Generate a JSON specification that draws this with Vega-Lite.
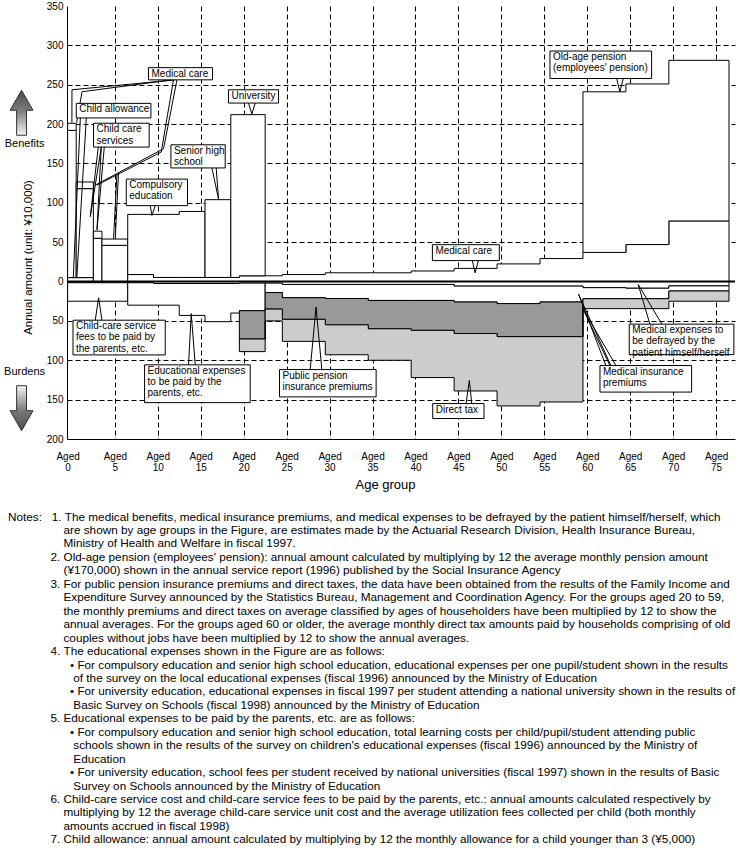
{
  "$schema": "https://vega.github.io/schema/vega-lite/v6.json",
  "width": 668,
  "height": 433,
  "autosize": {"type": "none"},
  "padding": {"left": 67, "top": 6, "right": 5, "bottom": 417},
  "background": "white",
  "config": {
    "view": {"stroke": null},
    "font": "Liberation Sans",
    "axis": {"labelFont": "Liberation Sans", "titleFont": "Liberation Sans"}
  },
  "title": {
    "text": [
      "Notes:\u00a0\u00a0\u00a01.\u00a0The medical benefits, medical insurance premiums, and medical expenses to be defrayed by the patient himself/herself, which",
      "\u200b\u00a0\u00a0\u00a0\u00a0\u00a0\u00a0\u00a0\u00a0\u00a0\u00a0\u00a0\u00a0\u00a0\u00a0\u00a0\u00a0\u00a0are shown by age groups in the Figure, are estimates made by the Actuarial Research Division, Health Insurance Bureau,",
      "\u200b\u00a0\u00a0\u00a0\u00a0\u00a0\u00a0\u00a0\u00a0\u00a0\u00a0\u00a0\u00a0\u00a0\u00a0\u00a0\u00a0\u00a0Ministry of Health and Welfare in fiscal 1997.",
      "\u200b\u00a0\u00a0\u00a0\u00a0\u00a0\u00a0\u00a0\u00a0\u00a0\u00a0\u00a0\u00a0\u00a02.\u00a0Old-age pension (employees' pension): annual amount calculated by multiplying by 12 the average monthly pension amount",
      "\u200b\u00a0\u00a0\u00a0\u00a0\u00a0\u00a0\u00a0\u00a0\u00a0\u00a0\u00a0\u00a0\u00a0\u00a0\u00a0\u00a0\u00a0(¥170,000) shown in the annual service report (1996) published by the Social Insurance Agency",
      "\u200b\u00a0\u00a0\u00a0\u00a0\u00a0\u00a0\u00a0\u00a0\u00a0\u00a0\u00a0\u00a0\u00a03.\u00a0For public pension insurance premiums and direct taxes, the data have been obtained from the results of the Family Income and",
      "\u200b\u00a0\u00a0\u00a0\u00a0\u00a0\u00a0\u00a0\u00a0\u00a0\u00a0\u00a0\u00a0\u00a0\u00a0\u00a0\u00a0\u00a0Expenditure Survey announced by the Statistics Bureau, Management and Coordination Agency. For the groups aged 20 to 59,",
      "\u200b\u00a0\u00a0\u00a0\u00a0\u00a0\u00a0\u00a0\u00a0\u00a0\u00a0\u00a0\u00a0\u00a0\u00a0\u00a0\u00a0\u00a0the monthly premiums and direct taxes on average classified by ages of householders have been multiplied by 12 to show the",
      "\u200b\u00a0\u00a0\u00a0\u00a0\u00a0\u00a0\u00a0\u00a0\u00a0\u00a0\u00a0\u00a0\u00a0\u00a0\u00a0\u00a0\u00a0annual averages. For the groups aged 60 or older, the average monthly direct tax amounts paid by households comprising of old",
      "\u200b\u00a0\u00a0\u00a0\u00a0\u00a0\u00a0\u00a0\u00a0\u00a0\u00a0\u00a0\u00a0\u00a0\u00a0\u00a0\u00a0\u00a0couples without jobs have been multiplied by 12 to show the annual averages.",
      "\u200b\u00a0\u00a0\u00a0\u00a0\u00a0\u00a0\u00a0\u00a0\u00a0\u00a0\u00a0\u00a0\u00a04.\u00a0The educational expenses shown in the Figure are as follows:",
      "\u200b\u00a0\u00a0\u00a0\u00a0\u00a0\u00a0\u00a0\u00a0\u00a0\u00a0\u00a0\u00a0\u00a0\u00a0\u00a0\u00a0\u00a0\u00a0\u00a0•\u00a0For compulsory education and senior high school education, educational expenses per one pupil/student shown in the results",
      "\u200b\u00a0\u00a0\u00a0\u00a0\u00a0\u00a0\u00a0\u00a0\u00a0\u00a0\u00a0\u00a0\u00a0\u00a0\u00a0\u00a0\u00a0\u00a0\u00a0\u00a0of the survey on the local educational expenses (fiscal 1996) announced by the Ministry of Education",
      "\u200b\u00a0\u00a0\u00a0\u00a0\u00a0\u00a0\u00a0\u00a0\u00a0\u00a0\u00a0\u00a0\u00a0\u00a0\u00a0\u00a0\u00a0\u00a0\u00a0•\u00a0For university education, educational expenses in fiscal 1997 per student attending a national university shown in the results of",
      "\u200b\u00a0\u00a0\u00a0\u00a0\u00a0\u00a0\u00a0\u00a0\u00a0\u00a0\u00a0\u00a0\u00a0\u00a0\u00a0\u00a0\u00a0\u00a0\u00a0\u00a0Basic Survey on Schools (fiscal 1998) announced by the Ministry of Education",
      "\u200b\u00a0\u00a0\u00a0\u00a0\u00a0\u00a0\u00a0\u00a0\u00a0\u00a0\u00a0\u00a0\u00a05.\u00a0Educational expenses to be paid by the parents, etc. are as follows:",
      "\u200b\u00a0\u00a0\u00a0\u00a0\u00a0\u00a0\u00a0\u00a0\u00a0\u00a0\u00a0\u00a0\u00a0\u00a0\u00a0\u00a0\u00a0\u00a0\u00a0•\u00a0For compulsory education and senior high school education, total learning costs per child/pupil/student attending public",
      "\u200b\u00a0\u00a0\u00a0\u00a0\u00a0\u00a0\u00a0\u00a0\u00a0\u00a0\u00a0\u00a0\u00a0\u00a0\u00a0\u00a0\u00a0\u00a0\u00a0\u00a0schools shown in the results of the survey on children's educational expenses (fiscal 1996) announced by the Ministry of",
      "\u200b\u00a0\u00a0\u00a0\u00a0\u00a0\u00a0\u00a0\u00a0\u00a0\u00a0\u00a0\u00a0\u00a0\u00a0\u00a0\u00a0\u00a0\u00a0\u00a0\u00a0Education",
      "\u200b\u00a0\u00a0\u00a0\u00a0\u00a0\u00a0\u00a0\u00a0\u00a0\u00a0\u00a0\u00a0\u00a0\u00a0\u00a0\u00a0\u00a0\u00a0\u00a0•\u00a0For university education, school fees per student received by national universities (fiscal 1997) shown in the results of Basic",
      "\u200b\u00a0\u00a0\u00a0\u00a0\u00a0\u00a0\u00a0\u00a0\u00a0\u00a0\u00a0\u00a0\u00a0\u00a0\u00a0\u00a0\u00a0\u00a0\u00a0\u00a0Survey on Schools announced by the Ministry of Education",
      "\u200b\u00a0\u00a0\u00a0\u00a0\u00a0\u00a0\u00a0\u00a0\u00a0\u00a0\u00a0\u00a0\u00a06.\u00a0Child-care service cost and child-care service fees to be paid by the parents, etc.: annual amounts calculated respectively by",
      "\u200b\u00a0\u00a0\u00a0\u00a0\u00a0\u00a0\u00a0\u00a0\u00a0\u00a0\u00a0\u00a0\u00a0\u00a0\u00a0\u00a0\u00a0multiplying by 12 the average child-care service unit cost and the average utilization fees collected per child (both monthly",
      "\u200b\u00a0\u00a0\u00a0\u00a0\u00a0\u00a0\u00a0\u00a0\u00a0\u00a0\u00a0\u00a0\u00a0\u00a0\u00a0\u00a0\u00a0amounts accrued in fiscal 1998)",
      "\u200b\u00a0\u00a0\u00a0\u00a0\u00a0\u00a0\u00a0\u00a0\u00a0\u00a0\u00a0\u00a0\u00a07.\u00a0Child allowance: annual amount calculated by multiplying by 12 the monthly allowance for a child younger than 3 (¥5,000)"
    ],
    "orient": "bottom",
    "anchor": "start",
    "frame": "group",
    "dx": -59,
    "offset": 20,
    "font": "Liberation Sans",
    "fontSize": 11.75,
    "fontWeight": "normal",
    "color": "black",
    "lineHeight": 13.45
  },
  "datasets": {
    "bands": [
      {"band": "Child allowance", "cat": "benefit", "age": -0.5, "lo": 0, "amt": 5},
      {"band": "Child allowance", "cat": "benefit", "age": 2.5, "lo": 0, "amt": 5},
      {"band": "Child care services 0", "cat": "benefit", "age": -0.5, "lo": 5, "amt": 192},
      {"band": "Child care services 0", "cat": "benefit", "age": 0.5, "lo": 5, "amt": 192},
      {"band": "Child care services 1-2", "cat": "benefit", "age": 0.5, "lo": 5, "amt": 118},
      {"band": "Child care services 1-2", "cat": "benefit", "age": 2.5, "lo": 5, "amt": 118},
      {"band": "Child care services 3", "cat": "benefit", "age": 2.5, "lo": 0, "amt": 55},
      {"band": "Child care services 3", "cat": "benefit", "age": 3.5, "lo": 0, "amt": 55},
      {"band": "Child care services 4-6", "cat": "benefit", "age": 3.5, "lo": 0, "amt": 46},
      {"band": "Child care services 4-6", "cat": "benefit", "age": 6.5, "lo": 0, "amt": 46},
      {"band": "Medical care 0", "cat": "benefit", "age": -0.5, "lo": 192, "amt": 201},
      {"band": "Medical care 0", "cat": "benefit", "age": 0.5, "lo": 192, "amt": 201},
      {"band": "Medical care 1-2", "cat": "benefit", "age": 0.5, "lo": 118, "amt": 126.5},
      {"band": "Medical care 1-2", "cat": "benefit", "age": 2.5, "lo": 118, "amt": 126.5},
      {"band": "Medical care 3", "cat": "benefit", "age": 2.5, "lo": 55, "amt": 64},
      {"band": "Medical care 3", "cat": "benefit", "age": 3.5, "lo": 55, "amt": 64},
      {"band": "Medical care 4-6", "cat": "benefit", "age": 3.5, "lo": 46, "amt": 54},
      {"band": "Medical care 4-6", "cat": "benefit", "age": 6.5, "lo": 46, "amt": 54},
      {"band": "Medical care", "cat": "benefit", "age": 6.5, "lo": 0, "amt": 8.9},
      {"band": "Medical care", "cat": "benefit", "age": 9.5, "lo": 0, "amt": 5.2},
      {"band": "Medical care", "cat": "benefit", "age": 19.5, "lo": 0, "amt": 7.3},
      {"band": "Medical care", "cat": "benefit", "age": 24.5, "lo": 0, "amt": 8.9},
      {"band": "Medical care", "cat": "benefit", "age": 29.5, "lo": 0, "amt": 11.1},
      {"band": "Medical care", "cat": "benefit", "age": 39.5, "lo": 0, "amt": 13.4},
      {"band": "Medical care", "cat": "benefit", "age": 44.5, "lo": 0, "amt": 16.7},
      {"band": "Medical care", "cat": "benefit", "age": 49.5, "lo": 0, "amt": 22.4},
      {"band": "Medical care", "cat": "benefit", "age": 54.5, "lo": 0, "amt": 29.2},
      {"band": "Medical care", "cat": "benefit", "age": 59.5, "lo": 0, "amt": 37},
      {"band": "Medical care", "cat": "benefit", "age": 64.5, "lo": 0, "amt": 47},
      {"band": "Medical care", "cat": "benefit", "age": 69.5, "lo": 0, "amt": 77},
      {"band": "Medical care", "cat": "benefit", "age": 76.5, "lo": 0, "amt": 77},
      {"band": "Compulsory education", "cat": "benefit", "age": 6.5, "lo": 8.9, "amt": 85.3},
      {"band": "Compulsory education", "cat": "benefit", "age": 9.5, "lo": 5.2, "amt": 85.3},
      {"band": "Compulsory education", "cat": "benefit", "age": 12.5, "lo": 5.2, "amt": 89},
      {"band": "Compulsory education", "cat": "benefit", "age": 15.5, "lo": 5.2, "amt": 89},
      {"band": "Senior high school", "cat": "benefit", "age": 15.5, "lo": 5.2, "amt": 104},
      {"band": "Senior high school", "cat": "benefit", "age": 18.5, "lo": 5.2, "amt": 104},
      {"band": "University", "cat": "benefit", "age": 18.5, "lo": 5.2, "amt": 212},
      {"band": "University", "cat": "benefit", "age": 19.5, "lo": 7.3, "amt": 212},
      {"band": "University", "cat": "benefit", "age": 22.5, "lo": 7.3, "amt": 212},
      {"band": "Old-age pension", "cat": "benefit", "age": 59.5, "lo": 37, "amt": 241},
      {"band": "Old-age pension", "cat": "benefit", "age": 64.5, "lo": 47, "amt": 251},
      {"band": "Old-age pension", "cat": "benefit", "age": 69.5, "lo": 77, "amt": 281},
      {"band": "Old-age pension", "cat": "benefit", "age": 76.5, "lo": 77, "amt": 281},
      {"band": "Medical self-pay", "cat": "burden", "age": -0.5, "lo": 0, "amt": -1.5},
      {"band": "Medical self-pay", "cat": "burden", "age": 9.5, "lo": 0, "amt": -2.5},
      {"band": "Medical self-pay", "cat": "burden", "age": 19.5, "lo": 0, "amt": -2},
      {"band": "Medical self-pay", "cat": "burden", "age": 24.5, "lo": 0, "amt": -3.7},
      {"band": "Medical self-pay", "cat": "burden", "age": 44.5, "lo": 0, "amt": -5.8},
      {"band": "Medical self-pay", "cat": "burden", "age": 59.5, "lo": 0, "amt": -7.8},
      {"band": "Medical self-pay", "cat": "burden", "age": 64.5, "lo": 0, "amt": -8.5},
      {"band": "Medical self-pay", "cat": "burden", "age": 69.5, "lo": 0, "amt": -5.5},
      {"band": "Medical self-pay", "cat": "burden", "age": 76.5, "lo": 0, "amt": -5.5},
      {"band": "Child-care service fees", "cat": "burden", "age": -0.5, "lo": -1.5, "amt": -25},
      {"band": "Child-care service fees", "cat": "burden", "age": 6.5, "lo": -1.5, "amt": -25},
      {"band": "Educational expenses", "cat": "burden", "age": 6.5, "lo": -1.5, "amt": -30},
      {"band": "Educational expenses", "cat": "burden", "age": 9.5, "lo": -2.5, "amt": -30},
      {"band": "Educational expenses", "cat": "burden", "age": 12.5, "lo": -2.5, "amt": -43},
      {"band": "Educational expenses", "cat": "burden", "age": 15.5, "lo": -2.5, "amt": -51},
      {"band": "Educational expenses", "cat": "burden", "age": 18.5, "lo": -2.5, "amt": -40},
      {"band": "Educational expenses", "cat": "burden", "age": 19.5, "lo": -2, "amt": -37},
      {"band": "Educational expenses", "cat": "burden", "age": 22.5, "lo": -2, "amt": -37},
      {"band": "Medical insurance premiums", "cat": "burden", "age": 22.5, "lo": -2, "amt": -14},
      {"band": "Medical insurance premiums", "cat": "burden", "age": 24.5, "lo": -3.7, "amt": -20.5},
      {"band": "Medical insurance premiums", "cat": "burden", "age": 29.5, "lo": -3.7, "amt": -21.5},
      {"band": "Medical insurance premiums", "cat": "burden", "age": 34.5, "lo": -3.7, "amt": -24},
      {"band": "Medical insurance premiums", "cat": "burden", "age": 44.5, "lo": -5.8, "amt": -26},
      {"band": "Medical insurance premiums", "cat": "burden", "age": 49.5, "lo": -5.8, "amt": -28},
      {"band": "Medical insurance premiums", "cat": "burden", "age": 54.5, "lo": -5.8, "amt": -26},
      {"band": "Medical insurance premiums", "cat": "burden", "age": 59.5, "lo": -7.8, "amt": -21.8},
      {"band": "Medical insurance premiums", "cat": "burden", "age": 64.5, "lo": -8.5, "amt": -21.8},
      {"band": "Medical insurance premiums", "cat": "burden", "age": 69.5, "lo": -5.5, "amt": -12},
      {"band": "Medical insurance premiums", "cat": "burden", "age": 76.5, "lo": -5.5, "amt": -12},
      {"band": "Public pension insurance premiums", "cat": "pension", "age": 19.5, "lo": -37, "amt": -73},
      {"band": "Public pension insurance premiums", "cat": "pension", "age": 22.5, "lo": -14, "amt": -35},
      {"band": "Public pension insurance premiums", "cat": "pension", "age": 24.5, "lo": -20.5, "amt": -48},
      {"band": "Public pension insurance premiums", "cat": "pension", "age": 29.5, "lo": -21.5, "amt": -55},
      {"band": "Public pension insurance premiums", "cat": "pension", "age": 34.5, "lo": -24, "amt": -60},
      {"band": "Public pension insurance premiums", "cat": "pension", "age": 39.5, "lo": -24, "amt": -62},
      {"band": "Public pension insurance premiums", "cat": "pension", "age": 44.5, "lo": -26, "amt": -66},
      {"band": "Public pension insurance premiums", "cat": "pension", "age": 49.5, "lo": -28, "amt": -70},
      {"band": "Public pension insurance premiums", "cat": "pension", "age": 54.5, "lo": -26, "amt": -70},
      {"band": "Public pension insurance premiums", "cat": "pension", "age": 59.5, "lo": -26, "amt": -70},
      {"band": "Direct tax", "cat": "tax", "age": 19.5, "lo": -73, "amt": -89},
      {"band": "Direct tax", "cat": "tax", "age": 22.5, "lo": -35, "amt": -50},
      {"band": "Direct tax", "cat": "tax", "age": 24.5, "lo": -48, "amt": -76},
      {"band": "Direct tax", "cat": "tax", "age": 29.5, "lo": -55, "amt": -93},
      {"band": "Direct tax", "cat": "tax", "age": 34.5, "lo": -60, "amt": -100},
      {"band": "Direct tax", "cat": "tax", "age": 39.5, "lo": -62, "amt": -122},
      {"band": "Direct tax", "cat": "tax", "age": 44.5, "lo": -66, "amt": -139},
      {"band": "Direct tax", "cat": "tax", "age": 49.5, "lo": -70, "amt": -158},
      {"band": "Direct tax", "cat": "tax", "age": 54.5, "lo": -70, "amt": -153},
      {"band": "Direct tax", "cat": "tax", "age": 59.5, "lo": -21.8, "amt": -34.4},
      {"band": "Direct tax", "cat": "tax", "age": 64.5, "lo": -21.8, "amt": -34.4},
      {"band": "Direct tax", "cat": "tax", "age": 69.5, "lo": -12, "amt": -25},
      {"band": "Direct tax", "cat": "tax", "age": 76.5, "lo": -12, "amt": -25}
    ],
    "zero": [
      {"age": -0.57, "age_end": 77.2, "amt": 0}
    ],
    "callouts": [
      {"label": "Medical care", "age": 8.92, "age_end": 16.37, "amt": 271.7, "amt_end": 256.2},
      {"label": "Child allowance", "age": 0.51, "age_end": 9.2, "amt": 226.3, "amt_end": 207.8},
      {"label": "Child care\nservices", "age": 2.52, "age_end": 9.0, "amt": 201.1, "amt_end": 170.8},
      {"label": "Compulsory\neducation", "age": 6.33, "age_end": 13.46, "amt": 130.1, "amt_end": 96.4},
      {"label": "Senior high\nschool", "age": 11.53, "age_end": 17.85, "amt": 173.7, "amt_end": 144.3},
      {"label": "University", "age": 18.23, "age_end": 24.05, "amt": 243.6, "amt_end": 226.7},
      {"label": "Old-age pension\n(employees' pension)", "age": 55.66, "age_end": 67.49, "amt": 292.8, "amt_end": 257.9},
      {"label": "Medical care", "age": 41.97, "age_end": 49.76, "amt": 46.8, "amt_end": 26.6},
      {"label": "Child-care service\nfees to be paid by\nthe parents, etc.", "age": 0.13, "age_end": 10.87, "amt": -49.1, "amt_end": -93.2},
      {"label": "Educational expenses\nto be paid by the\nparents, etc.", "age": 8.46, "age_end": 20.76, "amt": -105.8, "amt_end": -153.8},
      {"label": "Public pension\ninsurance premiums", "age": 24.17, "age_end": 35.42, "amt": -111.8, "amt_end": -146.5},
      {"label": "Direct tax", "age": 42.01, "age_end": 47.98, "amt": -155.0, "amt_end": -174.0},
      {"label": "Medical insurance\npremiums", "age": 61.48, "age_end": 72.15, "amt": -106.7, "amt_end": -140.4},
      {"label": "Medical expenses to\nbe defrayed by the\npatient himself/herself", "age": 64.89, "age_end": 77.07, "amt": -54.1, "amt_end": -92.8}
    ],
    "tails": [
      {"age": 9.12, "amt": 96.4, "age_end": 9.32, "amt_end": 83.8},
      {"age": 9.70, "amt": 96.4, "age_end": 9.32, "amt_end": 83.8},
      {"age": 16.3, "amt": 144.3, "age_end": 17.07, "amt_end": 104.8},
      {"age": 16.8, "amt": 144.3, "age_end": 17.07, "amt_end": 104.8},
      {"age": 20.56, "amt": 226.7, "age_end": 20.95, "amt_end": 212.8},
      {"age": 21.34, "amt": 226.7, "age_end": 20.95, "amt_end": 212.8},
      {"age": 63.42, "amt": 257.9, "age_end": 63.8, "amt_end": 241.1},
      {"age": 64.19, "amt": 257.9, "age_end": 63.8, "amt_end": 241.1},
      {"age": 46.62, "amt": 26.6, "age_end": 46.94, "amt_end": 11.0},
      {"age": 47.32, "amt": 26.6, "age_end": 46.94, "amt_end": 11.0},
      {"age": 2.72, "amt": -49.1, "age_end": 3.11, "amt_end": -20.6},
      {"age": 3.5, "amt": -49.1, "age_end": 3.11, "amt_end": -20.6},
      {"age": 13.58, "amt": -105.8, "age_end": 13.89, "amt_end": -40.7},
      {"age": 14.36, "amt": -105.8, "age_end": 13.89, "amt_end": -40.7},
      {"age": 27.74, "amt": -111.8, "age_end": 28.43, "amt_end": -32.3},
      {"age": 29.1, "amt": -111.8, "age_end": 28.43, "amt_end": -32.3},
      {"age": 45.89, "amt": -155.0, "age_end": 46.27, "amt_end": -125.6},
      {"age": 46.55, "amt": -155.0, "age_end": 46.27, "amt_end": -125.6},
      {"age": 62.17, "amt": -106.7, "age_end": 58.98, "amt_end": -15.9},
      {"age": 62.75, "amt": -106.7, "age_end": 58.98, "amt_end": -15.9},
      {"age": 62.64, "amt": -106.7, "age_end": 59.5, "amt_end": -34.7},
      {"age": 63.34, "amt": -106.7, "age_end": 59.5, "amt_end": -34.7},
      {"age": 67.29, "amt": -54.1, "age_end": 65.93, "amt_end": -3.7},
      {"age": 68.69, "amt": -54.1, "age_end": 65.93, "amt_end": -3.7},
      {"age": 3.07, "amt": 170.8, "age_end": 2.14, "amt_end": 82.5},
      {"age": 3.42, "amt": 170.8, "age_end": 2.14, "amt_end": 82.5},
      {"age": 3.42, "amt": 170.8, "age_end": 2.92, "amt_end": 65.7},
      {"age": 3.77, "amt": 170.8, "age_end": 2.92, "amt_end": 65.7},
      {"age": 0.98, "amt": 207.8, "age_end": 0.16, "amt_end": 4.3},
      {"age": 1.68, "amt": 207.8, "age_end": 0.57, "amt_end": 4.3},
      {"age": 12.03, "amt": 256.2, "age_end": 0.01, "amt_end": 243.6},
      {"age": 0.01, "amt": 243.6, "age_end": 0.0, "amt_end": 202},
      {"age": 11.68, "amt": 256.2, "age_end": 1.18, "amt_end": 241.1},
      {"age": 1.18, "amt": 241.1, "age_end": 0.55, "amt_end": 202},
      {"age": 12.23, "amt": 256.2, "age_end": 10.67, "amt_end": 168.7},
      {"age": 10.67, "amt": 168.7, "age_end": 2.72, "amt_end": 122.5},
      {"age": 11.83, "amt": 256.2, "age_end": 10.4, "amt_end": 164.5},
      {"age": 10.4, "amt": 164.5, "age_end": 2.92, "amt_end": 122.5},
      {"age": 5.43, "amt": 138.4, "age_end": 5.05, "amt_end": 54.4},
      {"age": 5.24, "amt": 135.6, "age_end": 4.85, "amt_end": 54.4}
    ],
    "sideLabels": [
      {"label": "Benefits", "age": -5.51, "amt": 174.7},
      {"label": "Burdens", "age": -5.51, "amt": -115.5}
    ],
    "arrows": [
      {"dir": "up", "age": -5.86, "amt": 214.4},
      {"dir": "down", "age": -5.86, "amt": -160.9}
    ]
  },
  "encoding": {
    "x": {
      "field": "age", "type": "quantitative", "title": "Age group",
      "scale": {"domain": [-0.57, 77.2], "nice": false, "zero": false},
      "axis": {
        "values": [-0.5, 5, 10, 15, 20, 25, 30, 35, 40, 45, 50, 55, 60, 65, 70, 75],
        "labelExpr": "['Aged', datum.value < 0 ? '0' : toString(datum.value)]",
        "labelFontSize": 10, "labelColor": "black", "labelLineHeight": 11.6,
        "labelPadding": 12, "labelFlush": false, "labelOverlap": false, "labelBound": false,
        "ticks": false, "tickSize": 0,
        "domainColor": "black", "domainWidth": 1,
        "grid": true, "gridColor": "black", "gridDash": [5, 3], "gridWidth": 1,
        "gridOpacity": {"condition": {"test": "datum.value < 0", "value": 0}, "value": 1},
        "titleFontSize": 13, "titleFontWeight": "normal", "titleColor": "black", "titlePadding": 6,
        "titleX": 318
      }
    },
    "y": {
      "field": "amt", "type": "quantitative", "stack": null, "title": "Annual amount (unit: ¥10,000)",
      "scale": {"domain": [-200, 350], "nice": false, "zero": false},
      "axis": {
        "values": [-200, -150, -100, -50, 0, 50, 100, 150, 200, 250, 300, 350],
        "labelExpr": "toString(abs(datum.value))",
        "labelFontSize": 10, "labelColor": "black", "labelPadding": 4,
        "labelFlush": false, "labelOverlap": false, "labelBound": false,
        "ticks": false, "tickSize": 0,
        "domainColor": "black", "domainWidth": 1,
        "grid": true, "gridColor": "black", "gridDash": [5, 3], "gridWidth": 1,
        "gridOpacity": {"condition": {"test": "datum.value === 0 || datum.value === 350 || datum.value === -200", "value": 0}, "value": 1},
        "titleFontSize": 11.5, "titleFontWeight": "normal", "titleColor": "black",
        "titleX": -39, "titleY": 251, "titleBaseline": "middle"
      }
    }
  },
  "layer": [
    {
      "data": {"name": "bands"},
      "mark": {"type": "area", "interpolate": "step-after", "orient": "vertical", "stroke": "black", "strokeWidth": 1, "opacity": 1},
      "encoding": {
        "y2": {"field": "lo"},
        "color": {
          "field": "cat", "type": "nominal", "legend": null,
          "scale": {"domain": ["benefit", "burden", "pension", "tax"], "range": ["#ffffff", "#ffffff", "#999999", "#cccccc"]}
        },
        "detail": {"field": "band"}
      }
    },
    {
      "data": {"name": "zero"},
      "mark": {"type": "rule", "color": "black", "strokeWidth": 2},
      "encoding": {"x2": {"field": "age_end"}}
    },
    {
      "data": {"name": "tails"},
      "mark": {"type": "rule", "color": "black", "strokeWidth": 1},
      "encoding": {"x2": {"field": "age_end"}, "y2": {"field": "amt_end"}}
    },
    {
      "data": {"name": "callouts"},
      "mark": {"type": "rect", "fill": "white", "stroke": "black", "strokeWidth": 1},
      "encoding": {"x2": {"field": "age_end"}, "y2": {"field": "amt_end"}}
    },
    {
      "data": {"name": "callouts"},
      "mark": {"type": "text", "align": "left", "baseline": "top", "dx": 3, "dy": 1, "font": "Liberation Sans", "fontSize": 10, "lineHeight": 11.3, "lineBreak": "\n", "color": "black"},
      "encoding": {"text": {"field": "label", "type": "nominal"}}
    },
    {
      "data": {"name": "sideLabels"},
      "mark": {"type": "text", "align": "center", "baseline": "middle", "font": "Liberation Sans", "fontSize": 11, "color": "black"},
      "encoding": {"text": {"field": "label", "type": "nominal"}}
    },
    {
      "data": {"name": "arrows"},
      "transform": [{"filter": "datum.dir === 'up'"}],
      "mark": {
        "type": "point", "filled": true, "opacity": 1, "size": 2025,
        "shape": "M0,-1L0.51,-0.11L0.22,-0.11L0.22,1L-0.22,1L-0.22,-0.11L-0.51,-0.11Z",
        "fill": {"gradient": "linear", "x1": 0, "y1": 0, "x2": 0, "y2": 1, "stops": [{"offset": 0, "color": "#4a4a4a"}, {"offset": 0.45, "color": "#7a7a7a"}, {"offset": 1, "color": "#f4f4f4"}]},
        "stroke": "#333333", "strokeWidth": 1
      }
    },
    {
      "data": {"name": "arrows"},
      "transform": [{"filter": "datum.dir === 'down'"}],
      "mark": {
        "type": "point", "filled": true, "opacity": 1, "size": 2025,
        "shape": "M0,1L0.51,0.11L0.22,0.11L0.22,-1L-0.22,-1L-0.22,0.11L-0.51,0.11Z",
        "fill": {"gradient": "linear", "x1": 0, "y1": 0, "x2": 0, "y2": 1, "stops": [{"offset": 0, "color": "#f4f4f4"}, {"offset": 0.55, "color": "#7a7a7a"}, {"offset": 1, "color": "#4a4a4a"}]},
        "stroke": "#333333", "strokeWidth": 1
      }
    }
  ]
}
